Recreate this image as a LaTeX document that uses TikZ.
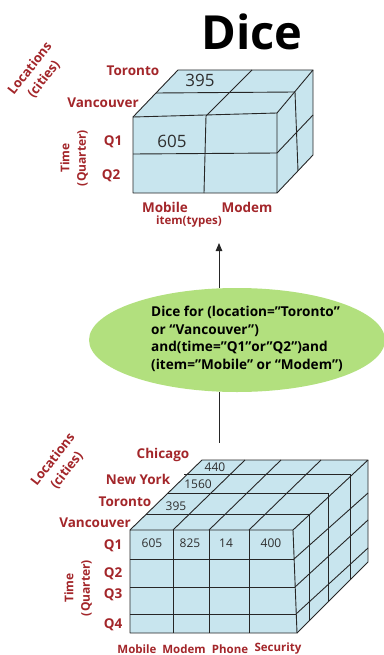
\documentclass[tikz,border=0pt]{standalone}
\usepackage{fontspec}
\setmainfont{Open Sans}
\usetikzlibrary{shapes.geometric,arrows.meta}
\definecolor{labred}{HTML}{A3262A}
\definecolor{cubefill}{HTML}{C8E5EE}
\definecolor{ellfill}{HTML}{B2E07E}
\definecolor{numgray}{HTML}{2E2E2E}
\definecolor{edge}{HTML}{262626}
\begin{document}
\begin{tikzpicture}[x=1pt,y=-1pt,
  lab/.style={text=labred, font=\bfseries\fontsize{13.5}{15}\selectfont, inner sep=0pt},
  labsm/.style={text=labred, font=\bfseries\fontsize{12}{16.5}\selectfont, inner sep=0pt, align=center},
  bignum/.style={text=numgray, font=\fontsize{17}{19}\selectfont, inner sep=0pt},
  smnum/.style={text=numgray, font=\fontsize{12}{13}\selectfont, inner sep=0pt},
  cubeedge/.style={draw=edge, line width=0.9pt, line join=round},
  conn/.style={draw=edge, line width=0.9pt}]
\useasboundingbox (0,0) rectangle (383,655);

% ---------- title ----------
\node[font=\bfseries\fontsize{47}{49}\selectfont, inner sep=0pt] (title) at (252,32) {Dice};

% ---------- top cube ----------
\coordinate (a1) at (133,117);
\coordinate (a2) at (277,113);
\coordinate (a3) at (277,193);
\coordinate (a4) at (133,193);
\coordinate (b1) at (178,70);
\coordinate (b2) at (313,70);
\coordinate (b3) at (313,155);
\fill[cubefill] (a4)--(a1)--(b1)--(b2)--(b3)--(a3)--cycle;
\draw[cubeedge] (a1)--(a2)--(a3)--(a4)--cycle;
\draw[cubeedge] (a1)--(b1)--(b2)--(a2);
\draw[cubeedge] (b2)--(b3)--(a3);
\draw[cubeedge] (206,116)--(204,193);
\draw[cubeedge] (133,154)--(277,153);
\draw[cubeedge] (156,93)--(295,92);
\draw[cubeedge] (252,70)--(206,116);
\draw[cubeedge] (277,153)--(313,115);
\draw[cubeedge] (295,92)--(298,171);

\node[bignum] (t395) at (200,80) {395};
\node[bignum] (t605) at (172,141) {605};

\node[lab] (tTor) at (133,71) {Toronto};
\node[lab] (tVan) at (103,103) {Vancouver};
\node[lab] (tQ1) at (113,142) {Q1};
\node[lab] (tQ2) at (111,176) {Q2};
\node[lab] (tMob) at (165,207) {Mobile};
\node[lab] (tMod) at (247,207) {Modem};
\node[text=labred, font=\bfseries\fontsize{11.5}{12}\selectfont, inner sep=0pt] (tItem) at (189,222) {item(types)};
\node[labsm, rotate=52, font=\bfseries\fontsize{13}{17.5}\selectfont] (tLoc) at (37,74) {Locations\\(cities)};
\node[labsm, rotate=90] (tTime) at (74,158) {Time\\(Quarter)};

% ---------- ellipse ----------
\node[ellipse, fill=ellfill, minimum width=296pt, minimum height=104pt, inner sep=0pt] (ell) at (237,340) {};
\node[anchor=west, align=left, inner sep=0pt, font=\bfseries\fontsize{13.6}{17.7}\selectfont] (elltext) at (151,339) {Dice for (location=”Toronto”\\or “Vancouver”)\\and(time=”Q1”or”Q2”)and\\(item=”Mobile” or “Modem”)};

\coordinate (tip) at (219,243);
\coordinate (bot) at (219,443);
\draw[conn, -{Triangle[length=8pt,width=6.5pt]}] (ell.north -| tip) -- (tip);
\draw[conn] (ell.south -| bot) -- (bot);

% ---------- bottom cube ----------
\fill[cubefill] (130,633)--(130,530)--(202,460)--(368,460)--(368,562)--(297,633)--cycle;
% front face
\draw[cubeedge] (130,530)--(293,530)--(297,633)--(130,633)--cycle;
\foreach \x in {173,209,249} \draw[cubeedge] (\x,530)--(\x,633);
\draw[cubeedge] (130,559)--(294,559);
\draw[cubeedge] (130,587)--(295,587);
\draw[cubeedge] (130,614)--(296,614);
% top face
\draw[cubeedge] (130,530)--(202,460)--(368,460)--(293,530);
\draw[cubeedge] (146,514)--(309,514);
\draw[cubeedge] (167,493)--(328,493);
\draw[cubeedge] (184,474)--(350,474);
\foreach \x in {173,209,249} \draw[cubeedge] (\x,530)--(\x+72,460);
% side face
\draw[cubeedge] (368,460)--(368,562)--(297,633);
\draw[cubeedge] (309,514)--(309,621);
\draw[cubeedge] (328,493)--(328,602);
\draw[cubeedge] (350,474)--(350,580);
\draw[cubeedge] (294,559)--(368,493);
\draw[cubeedge] (295,587)--(368,520);
\draw[cubeedge] (296,614)--(368,548);

\node[smnum] (n605) at (152,543) {605};
\node[smnum] (n825) at (190,543) {825};
\node[smnum] (n14) at (226,543) {14};
\node[smnum] (n400) at (271,543) {400};
\node[smnum] (n395) at (176,506) {395};
\node[smnum] (n1560) at (198,484) {1560};
\node[smnum] (n440) at (215,467) {440};

\node[lab] (bChi) at (163,455) {Chicago};
\node[lab] (bNY) at (138,479) {New York};
\node[lab] (bTor) at (125,502) {Toronto};
\node[lab] (bVan) at (95,523) {Vancouver};
\node[lab] (bQ1) at (113,546) {Q1};
\node[lab] (bQ2) at (113,574) {Q2};
\node[lab] (bQ3) at (113,595) {Q3};
\node[lab] (bQ4) at (113,625) {Q4};
\node[lab, font=\bfseries\fontsize{11.5}{14}\selectfont] (bMob) at (137,649) {Mobile};
\node[lab, font=\bfseries\fontsize{11.5}{14}\selectfont] (bMod) at (184,649) {Modem};
\node[lab, font=\bfseries\fontsize{11.5}{14}\selectfont] (bPho) at (230,649) {Phone};
\node[lab, font=\bfseries\fontsize{11.5}{14}\selectfont] (bSec) at (278,649) {Security};
\node[labsm, rotate=52, font=\bfseries\fontsize{13}{17.5}\selectfont] (bLoc) at (60,465) {Locations\\(cities)};
\node[labsm, rotate=90] (bTime) at (78,588) {Time\\(Quarter)};
\end{tikzpicture}
\end{document}
